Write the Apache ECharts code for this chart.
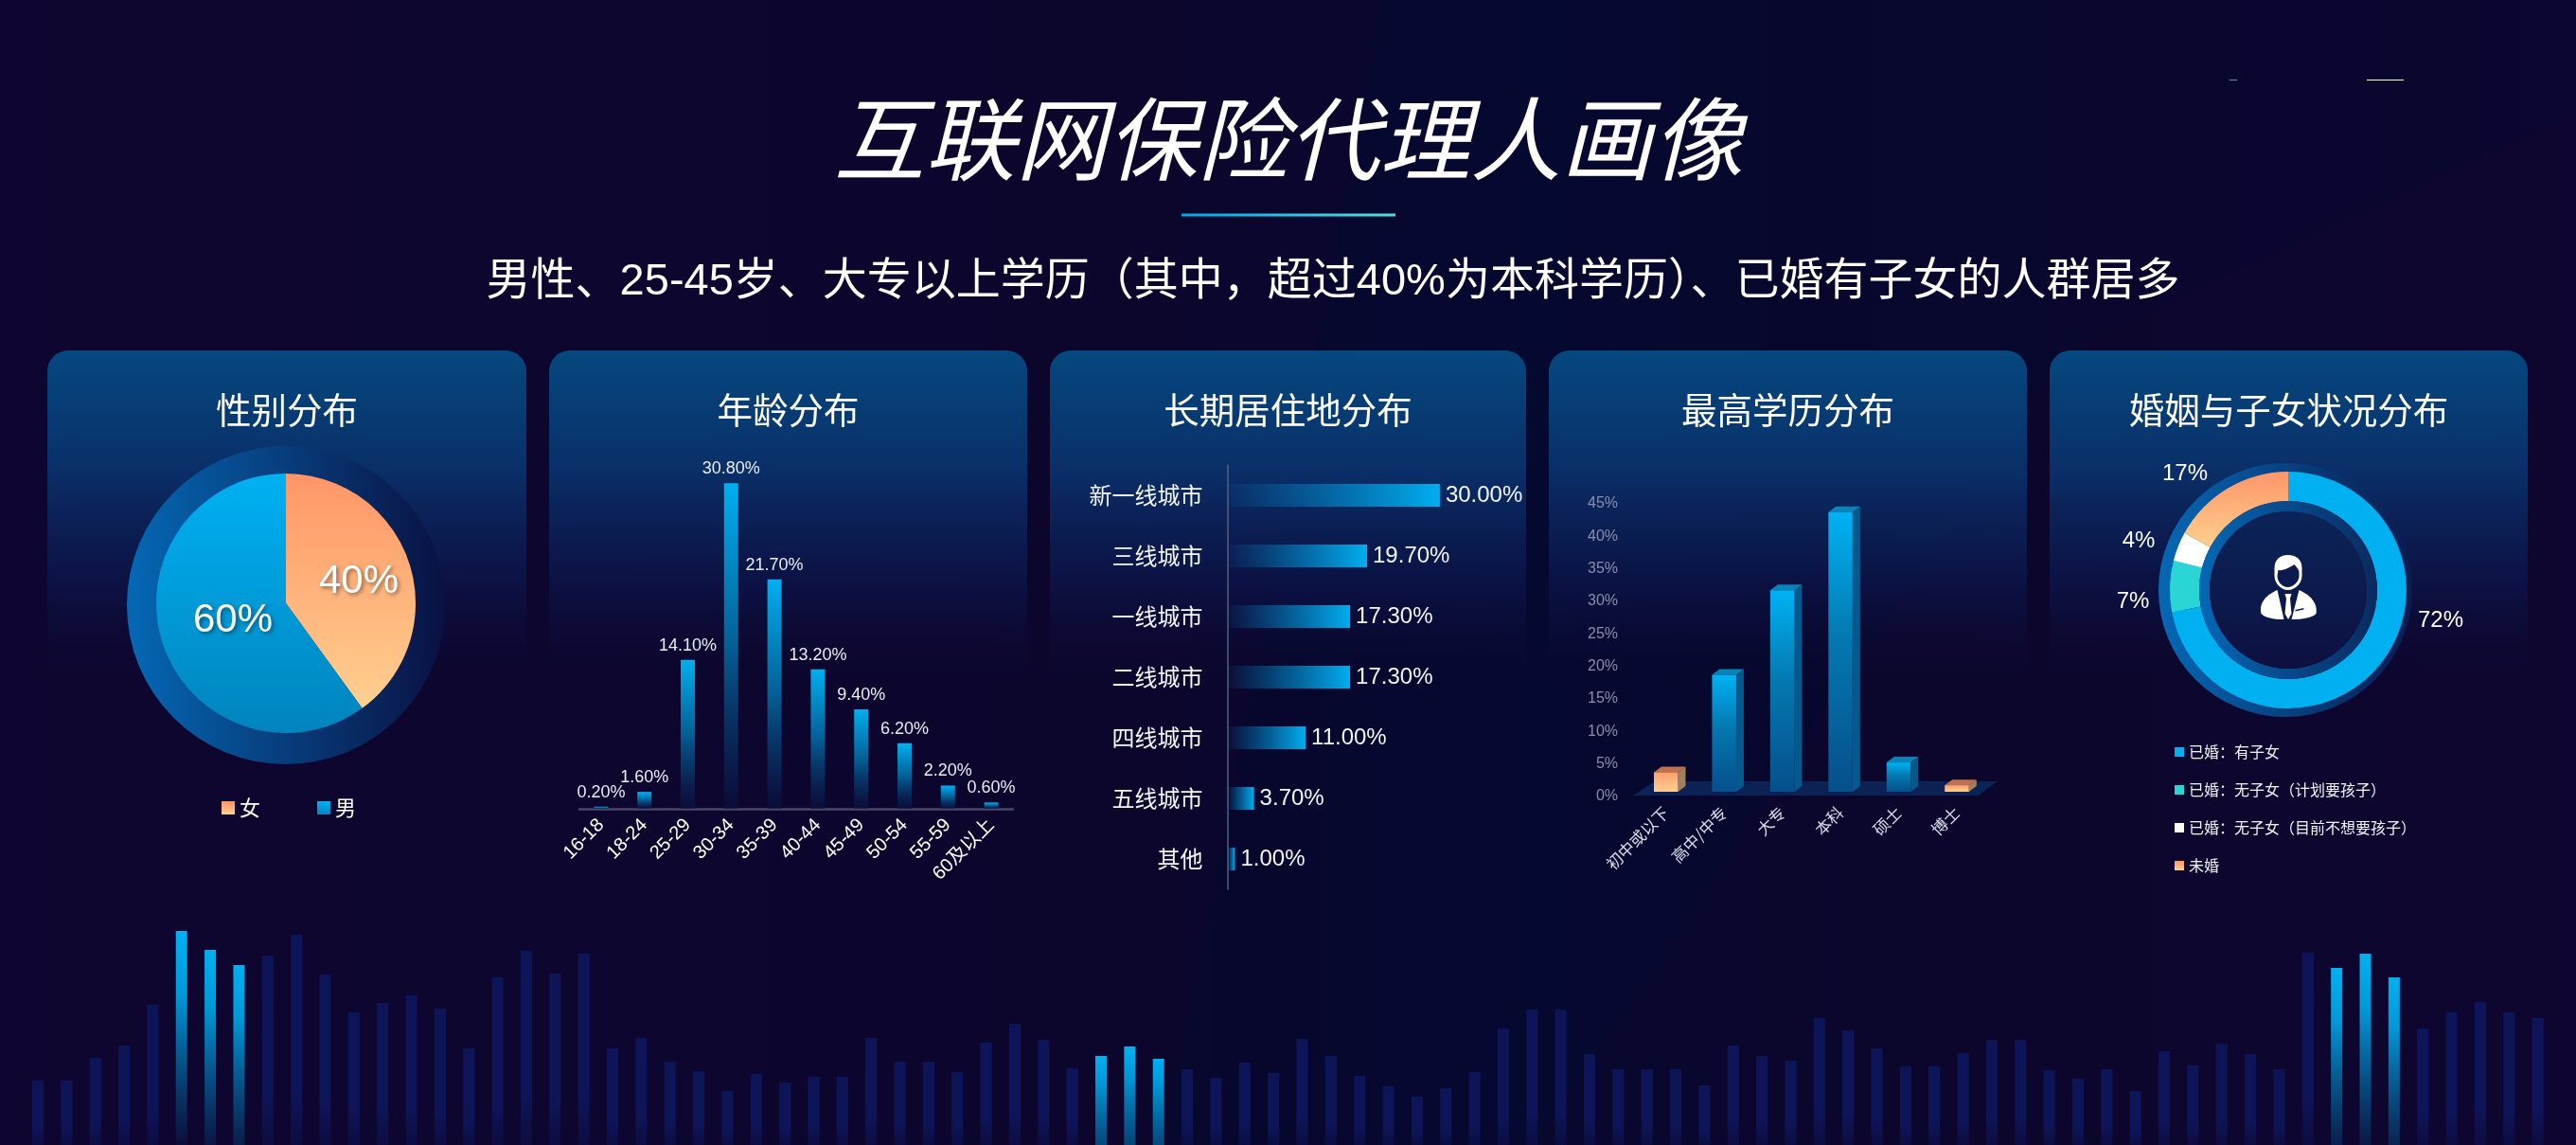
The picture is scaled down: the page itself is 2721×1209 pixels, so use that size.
<!DOCTYPE html>
<html><head><meta charset="utf-8">
<style>html,body{margin:0;padding:0;background:#0a0528}#c{width:2721px;height:1209px}</style>
<script src="https://cdn.jsdelivr.net/npm/echarts@6/dist/echarts.min.js"></script>
</head><body><div id="c"></div>
<script>
const mainTitle = '互联网保险代理人画像';
const subTitle = '男性、25-45岁、大专以上学历（其中，超过40%为本科学历）、已婚有子女的人群居多';
const cardTitles = ['性别分布','年龄分布','长期居住地分布','最高学历分布','婚姻与子女状况分布'];

const genderNames = ['女','男'];
const genderValues = [40,60];

const ageCats = ['16-18','18-24','25-29','30-34','35-39','40-44','45-49','50-54','55-59','60及以上'];
const ageValues = [0.2,1.6,14.1,30.8,21.7,13.2,9.4,6.2,2.2,0.6];

const cityCats = ['新一线城市','三线城市','一线城市','二线城市','四线城市','五线城市','其他'];
const cityValues = [30,19.7,17.3,17.3,11,3.7,1];

const eduCats = ['初中或以下','高中/中专','大专','本科','硕士','博士'];
const eduValues = [3,18,31,43,4.5,1];

const marryNames = ['已婚：有子女','已婚：无子女（计划要孩子）','已婚：无子女（目前不想要孩子）','未婚'];
const marryValues = [72,7,4,17];

const skylineValues = [68,68,92,105,148,226,206,190,200,222,180,140,150,158,144,102,177,205,181,202,102,113,88,78,57,75,66,72,72,113,88,88,77,108,128,111,81,94,104,91,80,71,87,76,112,94,73,62,51,60,77,123,143,143,96,80,80,80,63,105,94,89,134,121,102,83,83,97,111,111,79,70,80,57,99,84,107,96,80,203,187,202,177,123,140,151,140,134];
const skylineHot = [5,6,7,37,38,39,80,81,82];

const SANS = '"Liberation Sans","Noto Sans CJK SC",sans-serif';
const CJK = '"Noto Sans CJK SC",sans-serif';
const lg = (x,y,x2,y2,stops)=>new echarts.graphic.LinearGradient(x,y,x2,y2,stops.map((c,i)=>Array.isArray(c)?{offset:c[0],color:c[1]}:{offset:i/(stops.length-1),color:c}));
const orange = ()=>lg(0,0,0,1,['#ff9568','#ffd08f']);
const sky = ()=>lg(0,0,0,1,['#00b1f2','#0084be']);
const ringFill = (a,b)=>lg(0,0,1,0,[a,b]);

const cards = [[50,506],[580,505],[1109,503],[1636,505],[2165,505]];
const cardY = 370, cardH = 360;

const chart = echarts.init(document.getElementById('c'),null,{renderer:'canvas',width:2721,height:1209});

const personParts = [
 ['M16 14C16 4 23 0 30 0C38 0 45 4 45 14V22C45 30 38 37 30 37C23 37 16 30 16 22Z','#fff'],
 ['M20 16C25 17 33 13 37 10C39 13 42 15 42 18V22C42 28 36 34 30 34C24 34 19 28 19 22Z','#0c1a4d'],
 ['M19 37L26 68C14 68 6 66 2 62C-1 50 8 42 19 37Z','#fff'],
 ['M42 37L34 68C46 68 56 66 60 62C62 50 53 42 42 37Z','#fff'],
 ['M27 41H34L32.5 46L34 62L30.5 68L27 62L28.5 46Z','#fff'],
 ['M38 58L47 56V57.5L38 59.5Z','#0c1a4d']
];

const graphics = [];
graphics.push({type:'polygon',silent:true,z:-1,shape:{points:[[1460,0],[2721,0],[2721,120],[2180,370],[1620,1209],[1230,1209]]},style:{fill:'rgba(0,12,50,.28)'}});
cards.forEach(([x,w])=>graphics.push({type:'rect',z:0,silent:true,shape:{x,y:cardY,width:w,height:cardH,r:[22,22,0,0]},
  style:{fill:lg(0,0,0,1,[[0,'#05487f'],[0.35,'#0a2f68'],[0.7,'rgba(12,20,72,.75)'],[1,'rgba(11,8,45,0)']])}}));
graphics.push({type:'rect',silent:true,z:1,shape:{x:1248,y:225.5,width:226,height:3},style:{fill:lg(0,0,1,0,['#00a8e8','#50e0d8'])}});
graphics.push({type:'polygon',silent:true,z:1,shape:{points:[[1725,840],[1748,825],[2110,825],[2090,840]]},style:{fill:'#0c2254'}});
graphics.push({type:'rect',silent:true,z:1,shape:{x:2355,y:84,width:8,height:1},style:{fill:'#888'}});
graphics.push({type:'rect',silent:true,z:1,shape:{x:2500,y:84,width:39,height:1},style:{fill:'#fff'}});

const cardTitleOpts = cardTitles.map((t,i)=>({text:t,left:cards[i][0]+cards[i][1]/2,top:433,padding:0,textAlign:'center',textVerticalAlign:'middle',
  textStyle:{color:'#fff',fontFamily:CJK,fontSize:37.5,fontWeight:400}}));

const pieBase = {type:'pie',silent:true,startAngle:90,clockwise:true,label:{show:false},labelLine:{show:false},emphasis:{disabled:true}};
const genderPos = [[379,614],[246,655]];
const marryPos = [[2578,655],[2253,635],[2259,571],[2308,500]];

const option = {
 animation:false,
 backgroundColor:lg(0,0,1,0,[[0,'#0e0630'],[0.45,'#0c062d'],[0.6,'#08072e'],[0.75,'#0c062c'],[1,'#0e0630']]),
 title:[
  {text:mainTitle,left:1361,top:147,padding:0,textAlign:'center',textVerticalAlign:'middle',textStyle:{color:'#fff',fontFamily:CJK,fontSize:96,fontStyle:'italic',fontWeight:400}},
  {text:subTitle,left:1408,top:298,padding:0,textAlign:'center',textVerticalAlign:'middle',textStyle:{color:'#fff',fontFamily:SANS,fontSize:47,fontWeight:400}},
  ...cardTitleOpts
 ],
 legend:[
  {data:genderNames,left:234,top:842,icon:'rect',itemWidth:14,itemHeight:14,itemGap:60,selectedMode:false,padding:0,textStyle:{color:'#fff',fontFamily:CJK,fontSize:22}},
  {data:marryNames,orient:'vertical',left:2297,top:782,icon:'rect',itemWidth:10,itemHeight:10,itemGap:16,selectedMode:false,padding:0,textStyle:{color:'#eef2f7',fontFamily:CJK,fontSize:16,lineHeight:24}}
 ],
 grid:[
  {left:24.8,top:950,width:2671,height:259},
  {left:612,top:463.4,width:458,height:390.6},
  {left:1297,top:491,width:403,height:448},
  {left:1729,top:532,width:368.7,height:309}
 ],
 xAxis:[
  {gridIndex:0,type:'category',show:false,data:skylineValues.map((_,i)=>i)},
  {gridIndex:1,type:'category',data:ageCats,axisTick:{show:false},axisLine:{lineStyle:{color:'#4a4768',width:2.5}},
   axisLabel:{interval:0,rotate:45,margin:14,color:'#fff',fontFamily:SANS,fontSize:20}},
  {gridIndex:2,type:'value',show:false,min:0,max:54,splitLine:{show:false}},
  {gridIndex:3,type:'category',data:eduCats,axisTick:{show:false},axisLine:{show:false},
   axisLabel:{interval:0,rotate:45,margin:14,color:'#d8dde8',fontFamily:CJK,fontSize:17}}
 ],
 yAxis:[
  {gridIndex:0,type:'value',show:false,min:0,max:259,splitLine:{show:false}},
  {gridIndex:1,type:'value',show:false,min:0,max:35,splitLine:{show:false}},
  {gridIndex:2,type:'category',inverse:true,data:cityCats,offset:3.5,axisTick:{show:false},axisLine:{lineStyle:{color:'#55607f',width:1.5}},
   axisLabel:{interval:0,margin:23,color:'#f2f5f9',fontFamily:CJK,fontSize:24}},
  {gridIndex:3,type:'value',min:0,max:45,interval:5,splitLine:{show:false},axisLine:{show:false},axisTick:{show:false},
   axisLabel:{margin:20,color:'#8a8fa8',fontFamily:SANS,fontSize:16,formatter:'{value}%'}}
 ],
 series:[
  {type:'bar',xAxisIndex:0,yAxisIndex:0,silent:true,barWidth:12,data:skylineValues.map((v,i)=>{
     const hot = skylineHot.includes(i);
     const endAlpha = Math.max(0,1-v/230);
     return {value:v,itemStyle:{color: hot
       ? lg(0,0,0,1,[[0,'#00b1f2'],[0.3,'#0098d8'],[1,`rgba(0,120,180,${endAlpha*0.9+0.05})`]])
       : lg(0,0,0,1,[[0,'#0e1458'],[0.75,'#0e1458'],[1,'rgba(14,20,88,.45)']])}};
   })},
  {type:'bar',xAxisIndex:1,yAxisIndex:1,silent:true,barWidth:15,data:ageValues.map(v=>({value:v,itemStyle:{color:lg(0,0,0,1,[[0,'#00aff0'],[0.5,'#045f95'],[1,'rgba(10,16,64,.6)']])}})),
   label:{show:true,position:'top',distance:6,color:'#e8edf3',fontFamily:SANS,fontSize:18,formatter:p=>p.value.toFixed(2)+'%'}},
  {type:'bar',xAxisIndex:2,yAxisIndex:2,silent:true,barWidth:24,data:cityValues,
   itemStyle:{color:lg(0,0,1,0,[[0,'rgba(0,150,220,.05)'],[1,'#00aeef']])},
   label:{show:true,position:'right',distance:6,color:'#f2f5f9',fontFamily:SANS,fontSize:24,formatter:p=>p.value.toFixed(2)+'%'}},
  {type:'custom',xAxisIndex:3,yAxisIndex:3,silent:true,clip:false,encode:{x:0,y:1},
   data:eduValues.map((v,i)=>[i,v]),
   renderItem:(params,api)=>{
     const i=api.value(0), lift=5, w=25.5, dx=8, dy=6;
     const top=api.coord([i,api.value(1)]), base=api.coord([i,0]);
     const xl=top[0]-w/2, xr=xl+w, yt=top[1]-lift, yb=base[1]-lift;
     const warm = i===0||i===5;
     const front = warm ? lg(0,0,0,1,['#ff9f6f','#ffd08f']) : lg(0,0,0,1,[[0,'#00b2f4'],[0.45,'#0478b0'],[1,'#064f8c']]);
     return {type:'group',children:[
       {type:'polygon',shape:{points:[[xr,yt],[xr+dx,yt-dy],[xr+dx,yb-dy],[xr,yb]]},style:{fill:warm?'#a3805c':'#06598c'}},
       {type:'polygon',shape:{points:[[xl,yt],[xl+dx,yt-dy],[xr+dx,yt-dy],[xr,yt]]},style:{fill:warm?'#c0714f':'#0784b8'}},
       {type:'rect',shape:{x:xl,y:yt,width:w,height:yb-yt},style:{fill:front}}
     ]};
   }},
  Object.assign({},pieBase,{center:[302,639],radius:[125,168],z:1,data:[{value:1,name:'ring1',itemStyle:{color:ringFill('#0568b5','#0a1142')}}]}),
  Object.assign({},pieBase,{center:[302,637],radius:[0,137],data:[
     {value:genderValues[0],name:genderNames[0],itemStyle:{color:orange()}},
     {value:genderValues[1],name:genderNames[1],itemStyle:{color:sky()}}],
    label:{show:true,position:'outer',color:'#fff',fontFamily:SANS,fontSize:42,formatter:'{c}%',textShadowColor:'rgba(0,0,0,.45)',textShadowBlur:4,textShadowOffsetX:2,textShadowOffsetY:2},
    labelLayout:p=>({x:genderPos[p.dataIndex][0],y:genderPos[p.dataIndex][1],align:'center',verticalAlign:'middle'})}),
  Object.assign({},pieBase,{center:[2414,623],radius:[110,134],z:1,data:[{value:1,name:'ring2',itemStyle:{color:ringFill('#0568b5','#0a1c50')}}]}),
  Object.assign({},pieBase,{center:[2417,623],radius:[94,125],data:[
     {value:marryValues[0],name:marryNames[0],itemStyle:{color:'#00b0f0'}},
     {value:marryValues[1],name:marryNames[1],itemStyle:{color:'#2ad5d5'}},
     {value:marryValues[2],name:marryNames[2],itemStyle:{color:'#ffffff'}},
     {value:marryValues[3],name:marryNames[3],itemStyle:{color:orange()}}],
    label:{show:true,position:'outer',color:'#fff',fontFamily:SANS,fontSize:24,formatter:'{c}%'},
    labelLayout:p=>({x:marryPos[p.dataIndex][0],y:marryPos[p.dataIndex][1],align:'center',verticalAlign:'middle'})}),
  Object.assign({},pieBase,{center:[2417,623],radius:[83,94],data:[{value:1,name:'ring3',itemStyle:{color:ringFill('#0568b5','#0a2a60')}}]}),
  Object.assign({},pieBase,{center:[2417,623],radius:[0,83],data:[{value:1,name:'disc',itemStyle:{color:lg(0,0,0,1,['#0b2459','#0d1040'])}}]}),
  {type:'custom',coordinateSystem:'none',silent:true,z:6,data:[[0]],
   renderItem:()=>({type:'group',x:2386.5,y:586,children:personParts.map(([d,fill])=>({type:'path',shape:{pathData:d},style:{fill}}))})}
 ],
 graphic:{elements:graphics}
};
chart.setOption(option);
</script></body></html>
